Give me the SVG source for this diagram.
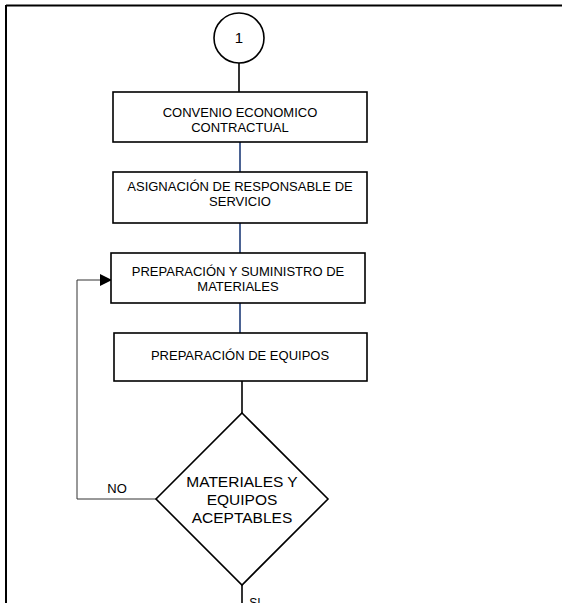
<svg xmlns="http://www.w3.org/2000/svg" width="562" height="603" viewBox="0 0 562 603">
<defs>
<style>
.box{fill:#fff;stroke:#000;stroke-width:1.6}
.t{font-family:"Liberation Sans",Arial,sans-serif;font-size:13px;fill:#000;text-anchor:middle}
.td{font-family:"Liberation Sans",Arial,sans-serif;font-size:15.5px;fill:#000;text-anchor:middle}
.blk{stroke:#000;stroke-width:1.6;fill:none}
.blu{stroke:#1f3c78;stroke-width:1.6;fill:none}
.thin{stroke:#333;stroke-width:1;fill:none}
</style>
<marker id="arr" markerWidth="12" markerHeight="12" refX="11" refY="6" orient="auto" markerUnits="userSpaceOnUse">
<path d="M0,0 L12,6 L0,12 Z" fill="#000"/>
</marker>
</defs>
<rect width="562" height="603" fill="#fff"/>
<g id="frame">
<line x1="6" y1="5.5" x2="562" y2="5.5" stroke="#000" stroke-width="2"/>
<line x1="6" y1="5" x2="6" y2="603" stroke="#000" stroke-width="2"/>
</g>
<g id="connectors">
<line class="blk" x1="239" y1="63" x2="239" y2="92"/>
<line class="blu" x1="240" y1="142" x2="240" y2="172"/>
<line class="blu" x1="240" y1="223" x2="240" y2="253"/>
<line class="blu" x1="240" y1="303" x2="240" y2="333"/>
<line class="blk" x1="242" y1="381" x2="242" y2="413"/>
<line class="blk" x1="242" y1="585" x2="242" y2="603"/>
<polyline class="thin" points="156,499 77,499 77,280 111,280" marker-end="url(#arr)"/>
<text class="t" x="117" y="493">NO</text>
<text class="t" x="255" y="607" style="font-size:12px">SI</text>
</g>
<g id="n1">
<circle cx="239" cy="38" r="25" fill="#fff" stroke="#000" stroke-width="1.6"/>
<text class="t" x="239" y="43" style="font-size:15px">1</text>
</g>
<g id="n2">
<rect class="box" x="113" y="92" width="254" height="50"/>
<text class="t" x="240" y="117">CONVENIO ECONOMICO</text>
<text class="t" x="240" y="132">CONTRACTUAL</text>
</g>
<g id="n3">
<rect class="box" x="113" y="172" width="254" height="51"/>
<text class="t" x="240" y="191">ASIGNACIÓN DE RESPONSABLE DE</text>
<text class="t" x="240" y="206">SERVICIO</text>
</g>
<g id="n4">
<rect class="box" x="111" y="253" width="254" height="50"/>
<text class="t" x="238" y="276">PREPARACIÓN Y SUMINISTRO DE</text>
<text class="t" x="238" y="291">MATERIALES</text>
</g>
<g id="n5">
<rect class="box" x="114" y="333" width="253" height="48" stroke-width="2.2"/>
<text class="t" x="240" y="360">PREPARACIÓN DE EQUIPOS</text>
</g>
<g id="n6">
<polygon points="242,413 328,499 242,585 156,499" fill="#fff" stroke="#000" stroke-width="1.6"/>
<text class="td" x="242" y="487">MATERIALES Y</text>
<text class="td" x="242" y="505">EQUIPOS</text>
<text class="td" x="242" y="523">ACEPTABLES</text>
</g>
</svg>
